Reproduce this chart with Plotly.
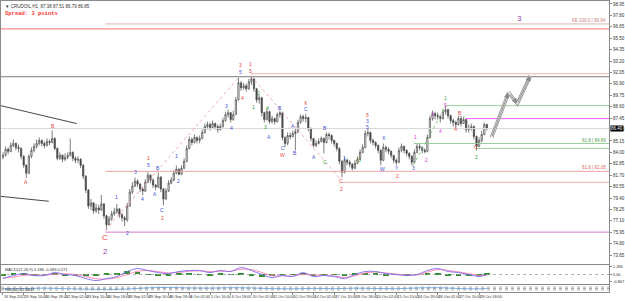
import plotly.graph_objects as go

# ---------------- data (4-hour candles, index = candle number) ----------------
closes = [83.70,84.30,84.10,84.70,84.90,84.50,84.40,83.60,82.70,81.90,
          83.60,84.20,84.60,84.90,85.20,84.90,84.70,85.10,85.00,85.40,
          84.40,83.40,83.70,83.30,83.50,83.70,84.00,83.40,83.20,83.30,
          82.70,81.60,80.20,78.60,78.90,78.10,78.40,78.20,78.80,77.60,
          76.70,77.30,77.80,78.00,78.30,77.70,77.40,77.20,78.60,80.00,
          80.60,81.10,80.80,80.30,80.10,81.00,81.70,81.20,80.70,80.50,
          81.50,80.30,79.30,80.10,80.90,81.20,81.90,82.30,81.80,82.40,
          83.10,84.40,85.30,85.00,85.50,85.20,85.40,86.00,86.60,86.80,
          86.50,86.90,86.60,86.30,86.60,87.20,87.80,88.00,87.30,87.80,
          89.30,91.00,90.50,90.70,90.40,91.10,91.40,90.40,89.30,89.50,
          88.00,87.30,88.10,87.10,87.40,87.10,87.80,88.00,85.50,84.90,
          85.70,85.60,85.90,86.10,87.00,87.60,87.40,87.50,86.40,85.40,
          84.70,84.90,85.10,85.40,85.00,85.80,85.70,85.20,84.90,84.40,
          83.10,82.00,83.20,83.00,82.80,82.40,82.90,83.30,84.00,84.50,
          85.90,86.00,85.20,85.00,84.70,84.20,83.20,84.50,84.30,84.10,
          83.70,83.20,83.00,84.20,84.60,84.20,83.90,83.60,83.00,84.00,
          84.60,84.50,84.20,84.10,85.50,87.40,87.90,87.70,87.60,87.40,
          88.10,88.30,87.70,87.20,87.00,86.80,87.40,86.90,87.30,86.30,
          86.40,86.60,85.60,84.60,85.20,85.80,86.80,86.40]
highs = [84.0,84.6,84.5,85.0,85.3,85.0,84.8,84.5,83.7,82.8,
         83.8,84.5,84.9,85.3,85.5,85.3,85.1,85.4,85.3,86.2,
         85.5,84.5,84.0,83.8,83.9,84.0,85.4,84.1,83.6,83.6,
         83.4,82.8,81.7,80.3,79.3,79.0,78.8,78.7,79.7,78.9,
         77.7,77.6,78.1,78.4,78.8,78.4,77.9,77.6,78.9,80.3,
         81.0,81.45,81.3,80.9,80.5,81.3,82.0,81.8,81.4,80.8,
         81.98,81.6,80.4,80.4,81.2,81.5,82.2,82.68,82.4,82.7,
         83.4,84.7,85.6,85.5,85.8,85.6,85.7,86.3,86.9,87.1,
         87.0,87.2,87.0,86.8,86.9,87.5,88.1,88.3,88.0,88.2,
         89.6,91.52,91.2,91.0,90.9,91.4,91.72,91.5,90.5,89.8,
         89.6,88.1,88.41,88.2,87.7,87.5,88.0,88.21,88.1,85.6,
         86.0,86.0,86.2,86.4,87.3,87.8,87.8,87.9,87.6,86.5,
         85.4,85.2,85.4,85.6,85.5,86.0,86.0,85.8,85.3,85.0,
         84.5,83.2,83.5,83.4,83.2,82.9,83.2,83.6,84.3,84.8,
         86.2,86.4,86.1,85.4,85.1,84.8,84.3,84.89,84.7,84.5,
         84.2,83.7,83.4,84.5,84.89,84.7,84.3,84.0,83.7,84.3,
         84.89,84.9,84.6,84.4,85.8,87.7,88.21,88.1,88.0,87.8,
         88.4,88.71,88.4,87.8,87.4,87.2,87.7,87.7,87.6,87.4,
         86.8,86.9,86.7,85.7,85.5,86.2,87.0,86.9]
lows = [83.3,83.6,83.8,84.0,84.5,84.2,84.0,83.3,82.4,81.4,
        81.8,83.4,84.0,84.4,84.7,84.6,84.4,84.6,84.7,84.9,
        84.2,83.2,83.2,83.0,83.1,83.3,83.6,83.1,82.9,82.9,
        82.4,81.3,79.9,78.3,78.2,77.8,77.9,77.8,78.1,77.3,
        76.16,76.6,77.1,77.6,77.8,77.4,77.0,76.56,77.0,78.5,
        79.8,80.5,80.5,80.0,79.67,80.0,80.9,80.9,80.4,80.17,
        80.4,80.0,78.67,79.2,80.0,80.8,81.1,81.8,81.68,81.7,
        82.3,83.0,84.3,84.7,84.9,84.9,84.9,85.3,85.9,86.3,
        86.2,86.4,86.3,86.0,86.2,86.5,87.1,87.5,87.0,87.2,
        87.8,89.2,90.2,90.3,90.1,90.3,90.8,90.1,89.0,88.9,
        87.6,87.0,87.2,86.9,86.9,86.8,87.0,87.5,85.2,84.49,
        84.7,85.3,85.5,84.19,85.9,86.9,87.1,87.0,86.1,85.1,
        84.49,84.5,84.8,85.0,83.89,84.9,85.3,84.9,84.6,84.1,
        82.8,81.48,81.9,82.7,82.5,82.18,82.3,82.8,83.2,83.9,
        84.4,85.6,84.9,84.7,84.4,83.9,82.68,83.1,84.0,83.8,
        83.4,82.9,82.68,82.9,84.0,83.9,83.6,83.3,82.68,82.9,
        83.9,84.2,83.9,83.89,84.0,85.4,87.2,87.3,87.3,87.0,
        87.3,87.8,87.4,86.9,86.6,86.5,86.7,86.6,86.9,86.0,
        86.0,86.2,85.3,84.19,84.5,85.0,85.7,86.2]
first_open = 83.50

# price axis labels
price_ticks = ["73.65","74.80","75.95","77.10","78.25","79.40","80.55","81.70","82.85",
               "84.00","85.15","86.30","87.45","88.60","89.75","90.90","92.05","93.20",
               "94.35","95.50","96.65","97.80","98.95"]
# time axis labels (every 8 candles)
date_labels = ["16 Sep 2022","19 Sep 10:00","20 Sep 18:00","22 Sep 02:00","23 Sep 10:00",
               "26 Sep 18:00","28 Sep 02:00","29 Sep 10:00","30 Sep 18:00","4 Oct 02:00",
               "5 Oct 10:00","6 Oct 18:00","10 Oct 02:00","11 Oct 10:00","12 Oct 18:00",
               "14 Oct 02:00","17 Oct 10:00","18 Oct 18:00","20 Oct 02:00","21 Oct 10:00",
               "24 Oct 18:00","26 Oct 02:00","27 Oct 10:00","28 Oct 18:00"]
date_tick_idx = list(range(0, 8 * len(date_labels), 8))

# horizontal levels: price, start candle, colour, width
level_price = [96.94, 96.44, 91.92, 91.62, 88.71, 87.40, 84.89, 84.39, 82.08, 80.98, 75.96]
level_start = [39.6, -1.0, 95.8, -1.0, 171.2, 178.8, 158.8, 182.7, 39.6, 130.8, 39.6]
level_color = ["#dba3a3", "#ff8f8f", "#e6a0a0", "#7a7a7a", "#8fd08f", "#ff5cff",
               "#8fcc8f", "#8fcc8f", "#f29a9a", "#f2a5a5", "#c77dc7"]
level_width = [0.8, 1.4, 0.8, 1.0, 0.9, 1.0, 0.9, 0.9, 0.9, 0.9, 1.0]
fib_text = ["FE 100.0 | 96.94", "61.8 | 84.89", "61.8 | 82.08"]
fib_price = [96.94, 84.89, 82.08]
fib_color = ["#c97a7a", "#4f9f4f", "#d46a6a"]

# trend lines (start idx, start price, end idx, end price, colour, dash)
trend_i0 = [-1.0, -1.0, 39.6, 95.8, 158.5]
trend_p0 = [88.71, 79.57, 76.16, 91.72, 82.68]
trend_i1 = [28.5, 17.7, 91.0, 130.8, 171.2]
trend_p1 = [86.90, 79.07, 91.52, 81.18, 88.71]
trend_col = ["#333333", "#333333", "#f2a0a0", "#f2a0a0", "#7cc47c"]
trend_dash = ["solid", "solid", "dot", "dot", "dot"]

# projected path
proj_i = [188.8, 195.4, 198.8, 203.8]
proj_p = [85.50, 90.02, 88.92, 91.72]

# wave labels
wl_i = [8.8,19.2,39.6,39.6,43.8,48.1,51.2,53.8,56.2,56.2,58.8,60.0,61.5,61.5,66.9,67.7,
        86.5,88.5,91.9,91.9,92.7,95.8,95.8,96.9,98.8,101.5,102.3,102.7,106.9,108.1,108.1,
        111.9,112.7,117.0,117.0,120.0,124.6,124.6,130.8,130.8,131.9,137.7,140.8,140.8,140.8,
        146.5,147.3,152.3,152.3,158.5,159.6,163.5,165.8,169.2,171.2,171.2,175.0,176.5,182.7,
        183.1,199.6]
wl_p = [80.98,86.70,75.40,74.05,79.47,75.86,81.98,79.27,82.68,83.45,79.77,82.38,78.17,77.40,
        83.59,81.08,88.71,86.50,92.12,92.85,89.51,92.92,92.22,88.61,90.01,86.60,88.51,85.50,
        88.51,84.39,83.75,86.70,83.89,88.95,88.41,83.49,86.50,82.99,81.08,80.27,83.39,83.19,
        87.80,87.20,86.60,82.28,85.40,82.38,81.58,82.38,85.50,83.19,87.90,86.20,88.81,89.51,
        86.40,88.01,84.49,83.49,97.44]
wl_t = ["A","B","C","2","1","2","3","4","5","1","A","B","C","2","1","2",
        "3","4","5","3","4","1","5","1","2","3","4","A","B","C","W",
        "A","B","X","C","A","B","C","C","2","1","3","5","3","5",
        "W","X","Y","2","3","1","2","3","4","5","1","A","B","C","2","3"]
wl_c = ["R","R","R","P","B","B","B","B","B","R","B","B","B","R","B","B",
        "B","B","B","R","R","R","R","G","G","G","G","B","B","B","R",
        "B","B","R","B","B","B","G","R","R","B","G","R","B","B",
        "B","B","B","R","B","M","M","M","M","M","G","R","R","R","G","P"]
wl_big = [2, 3, 60]

# MACD panel (every 4 candles)
macd_idx = list(range(0, 188, 4)) + [187]
macd_line = [-0.49,-0.12,0.12,-0.12,-0.12,0.24,0.0,-0.12,-0.49,-0.73,-0.49,-0.24,0.37,0.73,0.49,0.24,
             0.12,0.37,0.49,0.49,0.24,0.49,0.37,0.85,0.49,0.0,-0.37,-0.12,-0.24,0.24,-0.24,-0.12,
             -0.24,-0.49,0.0,0.37,0.37,0.12,0.0,-0.12,0.0,0.49,0.73,0.37,0.24,0.0,-0.24,0.0]
macd_signal = [-0.40,-0.30,-0.10,-0.05,-0.08,0.05,0.08,0.0,-0.25,-0.50,-0.55,-0.38,0.0,0.40,0.50,0.35,
               0.20,0.28,0.40,0.45,0.35,0.40,0.40,0.65,0.60,0.25,-0.15,-0.15,-0.20,0.05,-0.05,-0.10,
               -0.18,-0.35,-0.15,0.20,0.30,0.20,0.05,-0.05,-0.05,0.30,0.60,0.50,0.32,0.12,-0.12,-0.08]
macd_hist = [-0.09,0.18,0.22,-0.07,-0.04,0.19,-0.08,-0.12,-0.24,-0.23,0.06,0.14,0.37,0.33,-0.01,-0.11,
             -0.08,0.09,0.09,0.04,-0.11,0.09,-0.03,0.20,-0.11,-0.25,-0.22,0.03,-0.04,0.19,-0.19,-0.02,
             -0.06,-0.14,0.15,0.17,0.07,-0.08,-0.05,-0.07,0.05,0.19,0.13,-0.13,-0.08,-0.12,-0.12,0.08]
macd_ticks = ["1.286", "0.00", "-0.867"]

# lower oscillator panel
osc_idx = list(range(0, 188, 8)) + [187]
osc_vals = [45,50,55,48,40,35,42,60,65,58,55,62,58,48,45,52,47,55,50,48,58,62,50,45,52]

# ---------------- figure ----------------
opens = [first_open] + closes[:-1]
hi = [max(h, o, c) for h, o, c in zip(highs, opens, closes)]
lo = [min(l, o, c) for l, o, c in zip(lows, opens, closes)]
idx = list(range(len(closes)))
XR = [-0.77, 234.2]
last = closes[-1]
FONT = "Liberation Sans Narrow, Liberation Sans, Arial"

fig = go.Figure()
for p, s, c, w in zip(level_price, level_start, level_color, level_width):
    fig.add_trace(go.Scatter(x=[s, XR[1] + 2], y=[p, p], mode="lines",
                             line=dict(color=c, width=w), hoverinfo="skip", showlegend=False))
fig.add_trace(go.Scatter(x=[XR[0] - 2, XR[1] + 2], y=[last, last], mode="lines",
                         line=dict(color="#d9d9d9", width=1), hoverinfo="skip", showlegend=False))
for a, b, c, d, col, ds in zip(trend_i0, trend_p0, trend_i1, trend_p1, trend_col, trend_dash):
    fig.add_trace(go.Scatter(x=[a, c], y=[b, d], mode="lines",
                             line=dict(color=col, width=0.9, dash=ds), hoverinfo="skip", showlegend=False))

fig.add_trace(go.Candlestick(x=idx, open=opens, high=hi, low=lo, close=closes,
                             increasing=dict(line=dict(color="#474747", width=0.7), fillcolor="#ffffff"),
                             decreasing=dict(line=dict(color="#474747", width=0.7), fillcolor="#474747"),
                             whiskerwidth=0, showlegend=False, hoverinfo="skip"))

fig.add_trace(go.Scatter(x=proj_i, y=proj_p, mode="lines", line=dict(color="#9a9a9a", width=3.6),
                         hoverinfo="skip", showlegend=False))
fig.add_trace(go.Scatter(x=proj_i, y=proj_p, mode="lines", line=dict(color="#ffffff", width=1.6),
                         hoverinfo="skip", showlegend=False))

# MACD
fig.add_trace(go.Bar(x=macd_idx, y=macd_hist, marker=dict(color="#2f8f2f", line=dict(width=0)),
                     width=2.2, xaxis="x2", yaxis="y2", showlegend=False, hoverinfo="skip"))
fig.add_trace(go.Scatter(x=[XR[0], XR[1]], y=[0, 0], mode="lines", xaxis="x2", yaxis="y2",
                         line=dict(color="#9a9a9a", width=0.8, dash="dot"), showlegend=False, hoverinfo="skip"))
fig.add_trace(go.Scatter(x=macd_idx, y=macd_signal, mode="lines", xaxis="x2", yaxis="y2",
                         line=dict(color="#ff7fae", width=0.9, shape="spline"), showlegend=False, hoverinfo="skip"))
fig.add_trace(go.Scatter(x=macd_idx, y=macd_line, mode="lines", xaxis="x2", yaxis="y2",
                         line=dict(color="#7a6cf0", width=0.9, shape="spline"), showlegend=False, hoverinfo="skip"))

# oscillator
for lv in [70, 50, 30]:
    fig.add_trace(go.Scatter(x=[XR[0], XR[1]], y=[lv, lv], mode="lines", xaxis="x3", yaxis="y3",
                             line=dict(color="#9a9a9a", width=0.8, dash="dot"), showlegend=False, hoverinfo="skip"))
fig.add_trace(go.Scatter(x=osc_idx, y=osc_vals, mode="lines", xaxis="x3", yaxis="y3",
                         line=dict(color="#6fa8dc", width=0.9, shape="spline"), showlegend=False, hoverinfo="skip"))

colors = {"R": "#e8413c", "B": "#3d4fd6", "G": "#2e9e43", "P": "#9b3fa5", "M": "#e040e0"}
ann = []
for k, (i, p, t, c) in enumerate(zip(wl_i, wl_p, wl_t, wl_c)):
    ann.append(dict(x=i, y=p, xref="x", yref="y", text=t, showarrow=False,
                    font=dict(size=8 if k in wl_big else 5, color=colors[c], family=FONT)))
for t, p, c in zip(fib_text, fib_price, fib_color):
    ann.append(dict(x=1.0, y=p, xref="paper", yref="y", text=t, showarrow=False, xanchor="right",
                    yanchor="bottom", xshift=-1, yshift=-1,
                    font=dict(size=4.5, color=c, family=FONT)))
for k in range(1, len(proj_i)):
    ann.append(dict(x=proj_i[k], y=proj_p[k], ax=proj_i[k - 1], ay=proj_p[k - 1],
                    xref="x", yref="y", axref="x", ayref="y", text="", showarrow=True,
                    arrowhead=2, arrowsize=1.1, arrowwidth=1, arrowcolor="#8a8a8a", standoff=0))
ann.append(dict(x=0.003, y=1.0, xref="paper", yref="paper", xanchor="left", yanchor="top", yshift=-1,
                text="▼ CRUDOIL,H1  87.38 87.51 86.79 86.85", showarrow=False,
                font=dict(size=4.5, color="#333333", family=FONT)))
ann.append(dict(x=0.003, y=1.0, xref="paper", yref="paper", xanchor="left", yanchor="top", yshift=-7,
                text="<b>Spread: 3 points</b>", showarrow=False,
                font=dict(size=5.5, color="#ff3333", family="Liberation Mono")))
ann.append(dict(x=1.0, y=last, xref="paper", yref="y", xanchor="left", xshift=1,
                text=f"{last:.2f}", showarrow=False, bgcolor="#000000", borderpad=0,
                font=dict(size=4.5, color="#ffffff", family=FONT)))
ann.append(dict(x=0.003, y=0.0925, xref="paper", yref="paper", xanchor="left", yanchor="top",
                text="MACD(12,26,9) 0.186 -0.083 0.271", showarrow=False,
                font=dict(size=4, color="#333333", family=FONT)))
ann.append(dict(x=0.003, y=0.024, xref="paper", yref="paper", xanchor="left", yanchor="top",
                text="RSI(14) 52.0847", showarrow=False,
                font=dict(size=4, color="#333333", family=FONT)))

axis_common = dict(showgrid=False, zeroline=False, showline=True, linecolor="#8a8a8a",
                   linewidth=1, mirror=True, fixedrange=True)
tickfont = dict(size=4.5, color="#333333", family=FONT)

fig.update_layout(
    width=625, height=301, margin=dict(l=0, r=14, t=0, b=9),
    paper_bgcolor="#ffffff", plot_bgcolor="#ffffff", showlegend=False,
    annotations=ann, bargap=0,
    xaxis=dict(domain=[0, 1], anchor="y", range=XR, showticklabels=False, ticks="",
               rangeslider=dict(visible=False), **axis_common),
    xaxis2=dict(domain=[0, 1], anchor="y2", range=XR, matches="x", showticklabels=False, ticks="",
                **axis_common),
    xaxis3=dict(domain=[0, 1], anchor="y3", range=XR, matches="x", tickvals=date_tick_idx,
                ticktext=date_labels, ticks="outside", ticklen=2, tickcolor="#8a8a8a",
                ticklabelposition="outside right", tickangle=0,
                tickfont=dict(size=3.8, color="#333333", family=FONT), **axis_common),
    yaxis=dict(domain=[0.0959, 1.0], range=[72.74, 99.25], side="right",
               tickvals=[float(t) for t in price_ticks], ticktext=price_ticks,
               ticks="outside", ticklen=2, tickcolor="#8a8a8a", tickfont=tickfont, **axis_common),
    yaxis2=dict(domain=[0.0274, 0.0925], range=[-1.15, 1.15], side="right", anchor="x2",
                tickvals=[0.95, 0.0, -0.9], ticktext=macd_ticks, ticks="outside", ticklen=2,
                tickcolor="#8a8a8a", tickfont=dict(size=4, color="#333333", family=FONT),
                **axis_common),
    yaxis3=dict(domain=[0.0, 0.024], range=[0, 100], side="right", anchor="x3",
                showticklabels=False, ticks="", **axis_common),
)

fig.write_html("out.html")
